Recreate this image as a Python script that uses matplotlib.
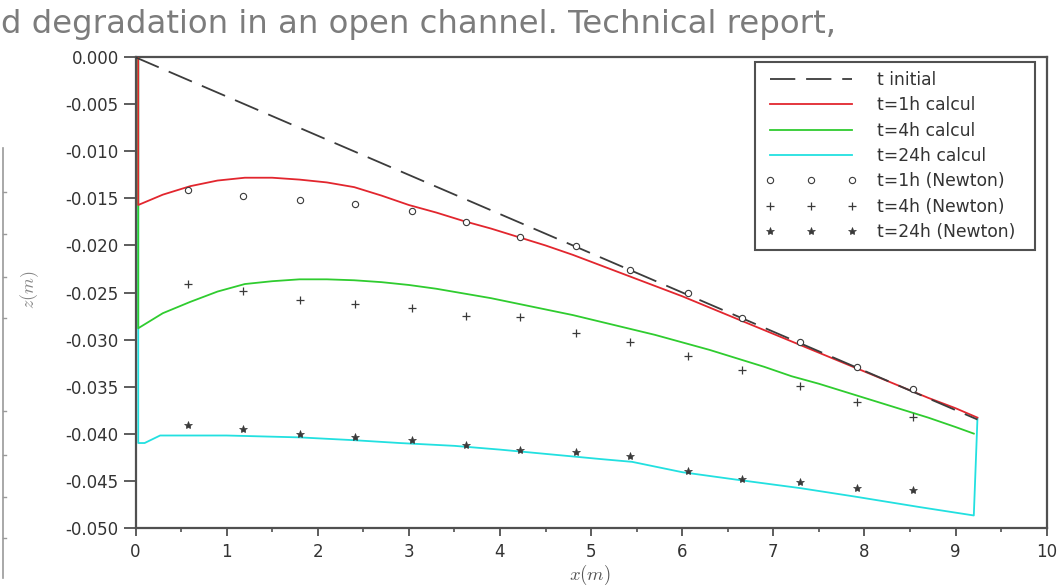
import matplotlib
matplotlib.use("Agg")
import matplotlib.pyplot as plt
from matplotlib.ticker import FormatStrFormatter, MultipleLocator
from matplotlib.lines import Line2D

# ---------------- data ----------------
x_init = [0.0, 9.24]
z_init = [0.0, -0.0385]

x_1h = [0.03, 0.03, 0.3, 0.6, 0.9, 1.2, 1.5, 1.8, 2.1, 2.4, 2.7, 3.0, 3.3, 3.6, 3.9,
        4.2, 4.5, 4.8, 5.1, 5.4, 5.7, 6.0, 6.3, 6.6, 6.9, 7.2, 7.5, 7.8, 8.1, 8.4,
        8.7, 9.0, 9.24]
z_1h = [0.0, -0.0157, -0.0146, -0.0137, -0.0131, -0.0128, -0.0128, -0.0130, -0.0133,
        -0.0138, -0.0147, -0.0157, -0.0165, -0.0174, -0.0182, -0.0191, -0.0200,
        -0.0210, -0.0221, -0.0232, -0.0243, -0.0254, -0.0266, -0.0278, -0.0290,
        -0.0302, -0.0314, -0.0326, -0.0338, -0.0350, -0.0362, -0.0373, -0.0383]

x_4h = [0.03, 0.03, 0.3, 0.6, 0.9, 1.2, 1.5, 1.8, 2.1, 2.4, 2.7, 3.0, 3.3, 3.6, 3.9,
        4.2, 4.5, 4.8, 5.1, 5.4, 5.7, 6.0, 6.3, 6.6, 6.9, 7.2, 7.5, 7.8, 8.1, 8.4,
        8.7, 9.0, 9.2]
z_4h = [0.0, -0.0288, -0.0272, -0.0260, -0.0249, -0.0241, -0.0238, -0.0236, -0.0236,
        -0.0237, -0.0239, -0.0242, -0.0246, -0.0251, -0.0256, -0.0262, -0.0268,
        -0.0274, -0.0281, -0.0288, -0.0295, -0.0303, -0.0311, -0.0320, -0.0329,
        -0.0339, -0.0347, -0.0356, -0.0365, -0.0374, -0.0383, -0.0393, -0.0400]

x_24h = [0.03, 0.03, 0.1, 0.27, 1.0, 1.8, 2.4, 2.9, 3.5, 4.0, 4.55, 5.1, 5.45, 6.0,
         6.6, 7.3, 7.9, 8.6, 9.2, 9.24]
z_24h = [0.0, -0.0410, -0.0410, -0.0402, -0.0402, -0.0404, -0.0407, -0.0410, -0.0413,
         -0.0417, -0.0422, -0.0427, -0.0430, -0.0441, -0.0449, -0.0458, -0.0467,
         -0.0478, -0.0487, -0.0384]

x_newton = [0.58, 1.18, 1.80, 2.41, 3.03, 3.63, 4.22, 4.83, 5.43, 6.06, 6.66, 7.29,
            7.92, 8.53]
z_newton_1h = [-0.0141, -0.0147, -0.0152, -0.0156, -0.0163, -0.0175, -0.0191, -0.0201,
               -0.0226, -0.0250, -0.0277, -0.0303, -0.0329, -0.0353]
z_newton_4h = [-0.0241, -0.0248, -0.0258, -0.0262, -0.0267, -0.0275, -0.0276, -0.0293,
               -0.0303, -0.0317, -0.0332, -0.0349, -0.0366, -0.0382]
z_newton_24h = [-0.0391, -0.0395, -0.0400, -0.0404, -0.0407, -0.0412, -0.0417, -0.0420,
                -0.0424, -0.0440, -0.0448, -0.0451, -0.0458, -0.0460]

labels = ["t initial", "t=1h calcul", "t=4h calcul", "t=24h calcul",
          "t=1h (Newton)", "t=4h (Newton)", "t=24h (Newton)"]
x_ticks = list(range(0, 11))
y_ticks = [0.000, -0.005, -0.010, -0.015, -0.020, -0.025, -0.030, -0.035, -0.040,
           -0.045, -0.050]

# ---------------- style ----------------
plt.rcParams['font.family'] = ['DejaVu Sans']
plt.rcParams['mathtext.fontset'] = 'cm'

W, H = 1064, 585
fig = plt.figure(figsize=(W / 100, H / 100), dpi=100)
fig.patch.set_facecolor('white')

ax = fig.add_axes([135.5 / W, 1 - 527.7 / H, (1046.7 - 135.5) / W, (527.7 - 57.3) / H])

RED = '#e2262e'
GREEN = '#2fcc2f'
CYAN = '#22e0e0'
MK = '#3a3a3a'

l0, = ax.plot(x_init, z_init, color='#3c3c3c', lw=1.3, linestyle=(0, (14, 6)),
              zorder=4, label=labels[0])
l1, = ax.plot(x_1h, z_1h, color=RED, lw=1.3, zorder=3.5, label=labels[1])
l2, = ax.plot(x_4h, z_4h, color=GREEN, lw=1.3, zorder=3.0, label=labels[2])
l3, = ax.plot(x_24h, z_24h, color=CYAN, lw=1.3, zorder=2.5, label=labels[3])
m1, = ax.plot(x_newton, z_newton_1h, linestyle='none', marker='o', ms=4.5,
              mfc='white', mec=MK, mew=0.8, zorder=5, label=labels[4])
m2, = ax.plot(x_newton, z_newton_4h, linestyle='none', marker='+', ms=5.5,
              color=MK, mew=0.9, zorder=5, label=labels[5])
m3, = ax.plot(x_newton, z_newton_24h, linestyle='none', marker='*', ms=6,
              color=MK, mew=0.5, zorder=5, label=labels[6])

ax.set_xlim(0, 10)
ax.set_ylim(-0.05, 0.0)
ax.set_xticks(x_ticks)
ax.set_yticks(y_ticks)
ax.xaxis.set_minor_locator(MultipleLocator(0.5))
ax.yaxis.set_major_formatter(FormatStrFormatter('%.3f'))

SP = '#505050'
for s in ax.spines.values():
    s.set_color(SP)
    s.set_linewidth(1.6)

ax.tick_params(axis='y', which='major', direction='out', length=9, width=1.3,
               colors=SP, labelcolor='#333333', labelsize=12, pad=3)
ax.tick_params(axis='x', which='major', direction='out', length=6, width=1.3,
               colors=SP, labelcolor='#333333', labelsize=12, pad=5)
ax.tick_params(axis='x', which='minor', direction='out', length=3, width=1.2,
               colors=SP)

# legend frame spans pixels 755..1035 horizontally, top at 62
ax_w = 1046.7 - 135.5
leg_x0 = (755 - 135.5) / ax_w
leg_w = 280 / ax_w
leg = ax.legend(handles=[l0, l1, l2, l3, m1, m2, m3], loc='upper left',
                bbox_to_anchor=(leg_x0, 0.5, leg_w, 0.491), mode='expand',
                borderaxespad=0, numpoints=3,
                fontsize=12.3, handlelength=5.4, handletextpad=1.17,
                labelspacing=0.43, borderpad=0.55, fancybox=False, framealpha=1,
                edgecolor=SP)
leg.get_frame().set_linewidth(1.5)
for t in leg.get_texts():
    t.set_color('#333333')

fig.text(590 / W, 1 - 575 / H, r'$x(m)$', ha='center', va='center',
         fontsize=13.5, color='#555555')
fig.text(30 / W, 1 - 290 / H, r'$z(m)$', ha='center', va='center',
         fontsize=13, color='#858585', rotation=90)

# page decoration: document text above the figure and left border line
fig.text(1 / W, 1 - 33 / H, "d degradation in an open channel. Technical report,",
         fontsize=23.3, color='#7c7c7c', family='DejaVu Sans', va='baseline',
         ha='left')
fig.add_artist(Line2D([3 / W, 3 / W], [1 - 148 / H, 1 - 578 / H],
                      color='#9a9a9a', lw=1.2))
for yy in [192, 234, 277, 318, 411, 455, 497, 538]:
    fig.add_artist(Line2D([3 / W, 6 / W], [1 - yy / H, 1 - yy / H],
                          color='#9a9a9a', lw=1.0))

fig.savefig('out.png', dpi=100)
